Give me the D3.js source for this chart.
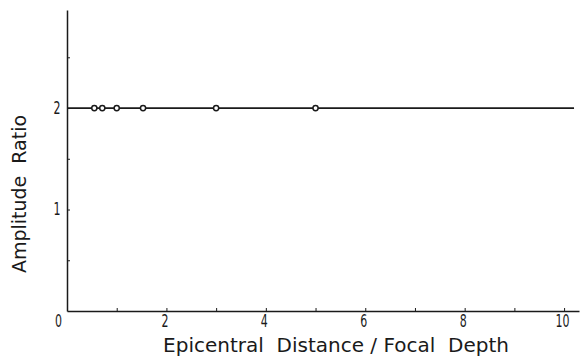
<!DOCTYPE html>
<html>
<head>
<meta charset="utf-8">
<script src="https://cdn.jsdelivr.net/npm/d3@7"></script>
<style>
  body { margin: 0; background: #fff; }
  svg { display: block; }
</style>
</head>
<body>
<div id="chart"></div>
<script>
// observed points (epicentral distance / focal depth, amplitude ratio)
let ratioX = [0.55, 0.71, 1.0, 1.53, 3.0, 5.0];
let ratioY = [2, 2, 2, 2, 2, 2];

// theoretical line
let lineX = [0, 10.2];
let lineY = [2, 2];

let xTicks = [0, 1, 2, 3, 4, 5, 6, 7, 8, 9, 10];
let xTickLabels = ["0", "", "2", "", "4", "", "6", "", "8", "", "10"];
let yTicks = [0.5, 1, 1.5, 2, 2.5];
let yTickLabels = ["", "1", "", "2", ""];

let width = 582;
let height = 357;

let svg = d3.select('#chart')
    .append('svg')
        .attr('width', width)
        .attr('height', height);

let x = d3.scaleLinear().domain([0, 10.3]).range([67, 579]);
let y = d3.scaleLinear().domain([0, 2.966]).range([311, 10]);

let ink = "#1a1a1a";
let tickFont = '"DejaVu Sans Condensed", "Liberation Sans Narrow", sans-serif';
let squeeze = 0.72; // tick digits are tall and narrow

// X axis
let xAxisCall = d3.axisBottom(x)
    .tickValues(xTicks)
    .tickSizeInner(-3)
    .tickSizeOuter(0)
    .tickPadding(6)
    .tickFormat(function (d, i) { return xTickLabels[i]; });

let xAxisGroup = svg.append('g')
    .attr('transform', 'translate(0,' + y(0) + ')')
    .call(xAxisCall);

xAxisGroup.select('.domain').attr('stroke', ink).attr('stroke-width', 1.5);
xAxisGroup.selectAll('.tick line').attr('stroke', ink).attr('stroke-width', 1);
xAxisGroup.selectAll('.tick text')
    .attr('fill', ink)
    .attr('font-family', tickFont)
    .attr('font-size', '17px')
    .attr('transform', 'scale(' + squeeze + ',1)')
    .attr('x', function (d) { return (d === 0 ? -9 : -2) / squeeze; })
    .attr('dy', '0.6em');

// Y axis
let yAxisCall = d3.axisLeft(y)
    .tickValues(yTicks)
    .tickSizeInner(-3)
    .tickSizeOuter(0)
    .tickPadding(9)
    .tickFormat(function (d, i) { return yTickLabels[i]; });

let yAxisGroup = svg.append('g')
    .attr('transform', 'translate(' + x(0) + ',0)')
    .call(yAxisCall);

yAxisGroup.select('.domain').attr('stroke', ink).attr('stroke-width', 1.5);
yAxisGroup.selectAll('.tick line').attr('stroke', ink).attr('stroke-width', 1);
yAxisGroup.selectAll('.tick text')
    .attr('fill', ink)
    .attr('font-family', tickFont)
    .attr('font-size', '17px')
    .attr('text-anchor', 'middle')
    .attr('transform', 'scale(' + squeeze + ',1)')
    .attr('x', -10 / squeeze);

// theoretical line
let line = d3.line()
    .x(function (d) { return x(d[0]); })
    .y(function (d) { return y(d[1]); });

svg.append('path')
    .datum(d3.zip(lineX, lineY))
    .attr('d', line)
    .attr('fill', 'none')
    .attr('stroke', ink)
    .attr('stroke-width', 1.7);

// points
svg.selectAll('circle')
    .data(d3.zip(ratioX, ratioY))
    .enter()
    .append('circle')
        .attr('cx', function (d) { return x(d[0]); })
        .attr('cy', function (d) { return y(d[1]); })
        .attr('r', 2.6)
        .attr('fill', '#fff')
        .attr('stroke', ink)
        .attr('stroke-width', 1.5);

// X Label
svg.append("text")
    .attr("x", 336)
    .attr("y", 352)
    .attr("font-family", "'DejaVu Sans', sans-serif")
    .attr("font-size", "20px")
    .attr("text-anchor", "middle")
    .attr("fill", ink)
    .attr("xml:space", "preserve")
    .text("Epicentral  Distance / Focal  Depth");

// Y Label
svg.append("text")
    .attr("x", -194)
    .attr("y", 26)
    .attr("font-family", "'DejaVu Sans', sans-serif")
    .attr("font-size", "19px")
    .attr("text-anchor", "middle")
    .attr("transform", "rotate(-90)")
    .attr("fill", ink)
    .attr("xml:space", "preserve")
    .text("Amplitude  Ratio");
</script>
</body>
</html>
